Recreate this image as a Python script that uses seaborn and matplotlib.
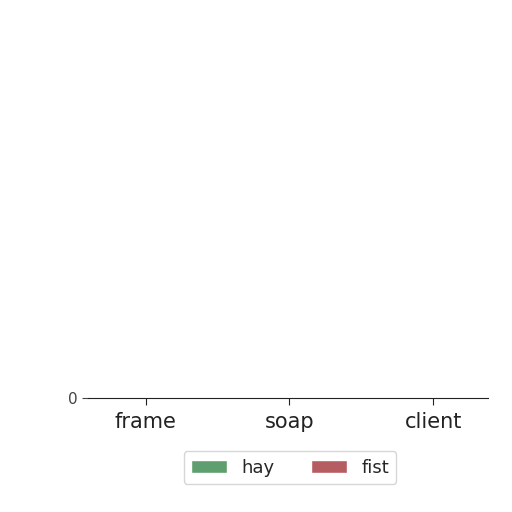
import matplotlib
matplotlib.use("Agg")
import matplotlib.pyplot as plt
import seaborn as sns
import pandas as pd

categories = ["frame", "soap", "client"]
series = ["hay", "fist"]
hay_values = [0.2, 0.1, 0.3]
fist_values = [0.1, 0.1, 0.2]

df = pd.DataFrame({
    "category": categories * 2,
    "series": ["hay"] * 3 + ["fist"] * 3,
    "value": hay_values + fist_values,
})

sns.set_style("white")
fig = plt.figure(figsize=(5.12, 5.12), dpi=100)
ax = fig.add_axes([88 / 512, 114 / 512, 400 / 512, 390 / 512])

sns.barplot(data=df, x="category", y="value", hue="series",
            palette={"hay": "#55a868", "fist": "#c44e52"}, ax=ax)

ax.set_ylim(0, 400)
ax.set_xlim(-0.4, 2.38)
ax.set_yticks([0])
ax.set_xlabel("")
ax.set_ylabel("")
for s in ["left", "top", "right"]:
    ax.spines[s].set_visible(False)
ax.spines["bottom"].set_color("#222222")
ax.tick_params(axis="x", bottom=True, length=5, pad=5, labelsize=15, colors="#222222")
ax.tick_params(axis="y", left=True, length=4, labelsize=11, colors="#444444")

ax.legend(loc="upper center", bbox_to_anchor=(0.505, -0.114), ncol=2,
          fontsize=13, frameon=True, handlelength=2.0, handletextpad=0.8,
          columnspacing=2.0)

fig.savefig("out.png", dpi=100)
